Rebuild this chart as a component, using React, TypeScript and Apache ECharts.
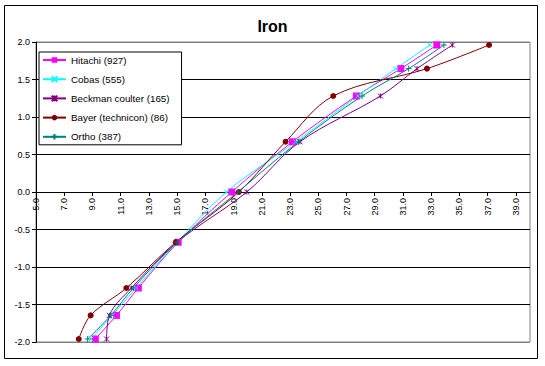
import React, { useEffect, useRef } from "react";
import * as echarts from "echarts";

const zScores = [-1.96, -1.645, -1.28, -0.67, 0, 0.67, 1.28, 1.645, 1.96];
const hitachi = [9.2, 10.7, 12.25, 15.07, 18.87, 23.17, 27.7, 30.85, 33.4];
const cobas = [8.9, 10.4, 12.1, 15.0, 18.5, 23.4, 27.8, 30.5, 32.9];
const beckman = [10.0, 10.2, 11.76, 15.0, 19.93, 23.7, 29.4, 32.0, 34.5];
const bayer = [8.03, 8.87, 11.4, 14.9, 19.37, 22.68, 26.06, 32.7, 37.1];
const ortho = [8.66, 10.3, 11.9, 15.0, 19.3, 23.6, 28.1, 31.4, 33.9];
const seriesNames = [
  "Hitachi (927)",
  "Cobas (555)",
  "Beckman coulter (165)",
  "Bayer (technicon) (86)",
  "Ortho (387)",
];
const xTickValues = [5, 7, 9, 11, 13, 15, 17, 19, 21, 23, 25, 27, 29, 31, 33, 35, 37, 39];

const FONT = "'Liberation Sans', Arial, sans-serif";

export default function App() {
  const ref = useRef<HTMLDivElement>(null);
  useEffect(() => {
    if (!ref.current) return;
    const chart = echarts.init(ref.current, undefined, { renderer: "svg" });
    const colors = ["#FF00FF", "#00FFFF", "#800080", "#800000", "#008080"];
    const symbols = [
      "rect",
      "path://M0,0L10,10M10,0L0,10",
      "path://M0,0L10,10M10,0L0,10M5,0L5,10",
      "circle",
      "path://M5,0L5,10M0,5L10,5",
    ];
    const sizes = [7, 5, 5, 6, 6];
    const all = [hitachi, cobas, beckman, bayer, ortho];
    const series = all.map((xs, i) => ({
      name: seriesNames[i],
      type: "line",
      smooth: 0.35,
      symbol: symbols[i],
      symbolSize: sizes[i],
      showSymbol: true,
      data: xs.map((x, j) => [x, zScores[j]]),
      lineStyle: { color: colors[i], width: 1 },
      itemStyle: { color: colors[i], borderColor: colors[i], borderWidth: i === 0 || i === 3 ? 0 : 1 },
      emphasis: { disabled: true },
    }));
    const gridTop = 42;
    const gridBottom = 24;
    const plotH = 366 - gridTop - gridBottom;
    chart.setOption({
      animation: false,
      textStyle: { fontFamily: FONT },
      title: {
        text: "Iron",
        left: "center",
        top: 13,
        textStyle: { fontFamily: FONT, fontSize: 16, fontWeight: "bold", color: "#000" },
      },
      graphic: [
        {
          type: "rect",
          shape: { x: 4.5, y: 5.5, width: 533, height: 353 },
          style: { fill: "none", stroke: "#000", lineWidth: 1 },
          silent: true,
        },
      ],
      legend: {
        orient: "vertical",
        left: 39,
        top: 52,
        padding: [3, 12, 3, 3],
        itemWidth: 23,
        itemHeight: 7,
        itemGap: 9.2,
        itemTextGap: 3,
        backgroundColor: "#fff",
        borderColor: "#000",
        borderWidth: 1,
        borderRadius: 0,
        textStyle: { fontFamily: FONT, fontSize: 9.8, color: "#000", lineHeight: 8 },
        data: seriesNames,
      },
      grid: {
        left: 36,
        top: gridTop,
        right: 15,
        bottom: gridBottom,
        show: true,
        borderColor: "#808080",
        borderWidth: 1,
        backgroundColor: "transparent",
        outerBoundsMode: "none",
        containLabel: false,
      },
      xAxis: {
        type: "value",
        min: 5,
        max: 40,
        position: "bottom",
        offset: -plotH / 2,
        axisLine: { onZero: false, lineStyle: { color: "#000", width: 1 } },
        axisTick: { show: true, length: 4, lineStyle: { color: "#000" }, customValues: xTickValues },
        axisLabel: {
          rotate: 90,
          margin: 6,
          fontFamily: FONT,
          fontSize: 9,
          color: "#000",
          customValues: xTickValues,
          formatter: (v: number) => v.toFixed(1),
        },
        splitLine: { show: false },
      },
      yAxis: {
        type: "value",
        min: -2,
        max: 2,
        interval: 0.5,
        axisLine: { show: true, onZero: false, lineStyle: { color: "#000", width: 1 } },
        axisTick: { show: true, length: 4, lineStyle: { color: "#000" } },
        axisLabel: {
          margin: 6,
          fontFamily: FONT,
          fontSize: 9,
          color: "#000",
          formatter: (v: number) => v.toFixed(1),
        },
        splitLine: {
          show: true,
          lineStyle: {
            color: ["#808080", "#000", "#000", "#000", "#000", "#000", "#000", "#000", "#808080"],
            width: 1,
          },
        },
      },
      series,
    });
    return () => chart.dispose();
  }, []);
  return (
    <div
      ref={ref}
      style={{ position: "fixed", left: 0, top: 0, width: 545, height: 366, background: "#fff" }}
    />
  );
}
